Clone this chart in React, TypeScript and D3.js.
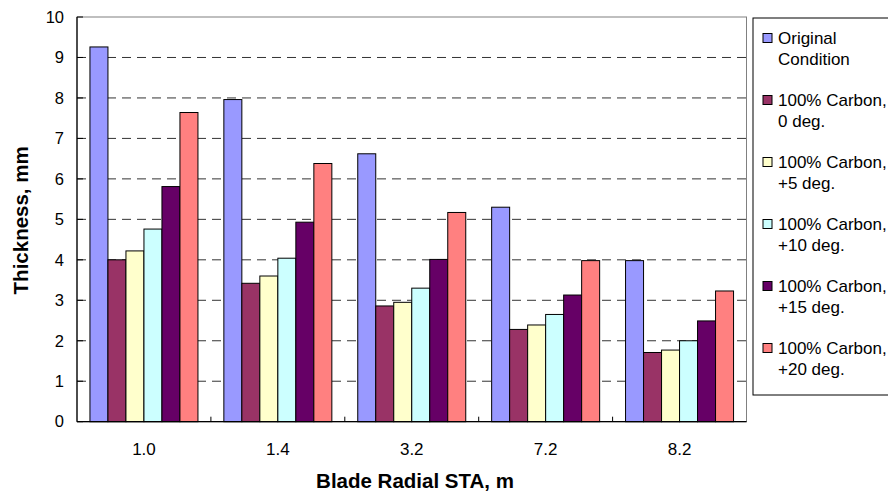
import React from "react";
import * as d3 from "d3";

const categories = ["1.0", "1.4", "3.2", "7.2", "8.2"];
const seriesNames = [
  ["Original", "Condition"],
  ["100% Carbon,", "0 deg."],
  ["100% Carbon,", "+5 deg."],
  ["100% Carbon,", "+10 deg."],
  ["100% Carbon,", "+15 deg."],
  ["100% Carbon,", "+20 deg."],
];
const colors = ["#9999FF", "#993366", "#FFFFCC", "#CCFFFF", "#660066", "#FF8080"];
const original = [9.26, 7.96, 6.62, 5.3, 3.98];
const carbon0 = [4.0, 3.42, 2.86, 2.28, 1.71];
const carbon5 = [4.22, 3.6, 2.95, 2.39, 1.77];
const carbon10 = [4.76, 4.04, 3.3, 2.65, 2.0];
const carbon15 = [5.81, 4.93, 4.01, 3.13, 2.49];
const carbon20 = [7.64, 6.38, 5.17, 3.98, 3.23];
const yTicks = [0, 1, 2, 3, 4, 5, 6, 7, 8, 9, 10];

const series = [original, carbon0, carbon5, carbon10, carbon15, carbon20];

export default function App() {
  const W = 888, H = 495;
  const left = 77, right = 746.5, top = 17, bottom = 421.7;
  const x = d3.scaleBand<string>().domain(categories).range([left, right]).paddingInner(0).paddingOuter(0);
  const y = d3.scaleLinear().domain([0, 10]).range([bottom, top]);
  const bw = x.bandwidth();
  const barW = 18;
  const groupPad = (bw - barW * series.length) / 2;
  const font = "Arial, 'Liberation Sans', sans-serif";

  const legX = 753, legY = 18, legH = 377;
  const entryY = (i: number) => 38 + i * 62;

  return (
    <svg width={W} height={H} style={{ position: "fixed", left: 0, top: 0, background: "#fff" }} fontFamily={font}>
      <rect x={0} y={0} width={W} height={H} fill="#fff" />
      {/* plot border */}
      <rect x={left} y={top} width={right - left} height={bottom - top} fill="none" stroke="#808080" strokeWidth={1} />
      {/* gridlines */}
      {yTicks.filter(t => t > 0 && t < 10).map(t => (
        <line key={"g" + t} x1={left} x2={right} y1={y(t)} y2={y(t)} stroke="#333" strokeWidth={1} strokeDasharray="9,6" />
      ))}
      {/* bars */}
      {categories.map((c, ci) => (
        <g key={c}>
          {series.map((s, si) => {
            const bx = (x(c) as number) + groupPad + si * barW;
            return (
              <rect key={si} x={bx} y={y(s[ci])} width={barW} height={bottom - y(s[ci])}
                fill={colors[si]} stroke="#000" strokeWidth={1} />
            );
          })}
        </g>
      ))}
      {/* axes */}
      <line x1={left} x2={left} y1={top} y2={bottom} stroke="#000" strokeWidth={1.2} />
      <line x1={left} x2={right} y1={bottom} y2={bottom} stroke="#000" strokeWidth={1.2} />
      {yTicks.map(t => (
        <g key={"t" + t}>
          <line x1={left} x2={left + 6} y1={y(t)} y2={y(t)} stroke="#000" />
          <text x={64} y={y(t)} dy="0.35em" textAnchor="end" fontSize={16.5} fill="#000">{t}</text>
        </g>
      ))}
      {categories.slice(1).map(c => (
        <line key={"xt" + c} x1={x(c)} x2={x(c)} y1={bottom} y2={bottom - 5} stroke="#000" />
      ))}
      {categories.map(c => (
        <text key={"xl" + c} x={(x(c) as number) + bw / 2} y={449} dy="0.35em" textAnchor="middle" fontSize={17} fill="#000">{c}</text>
      ))}
      {/* axis titles */}
      <text x={415} y={487.5} textAnchor="middle" fontSize={20.5} fontWeight="bold" fill="#000">Blade Radial STA, m</text>
      <text transform={`translate(27.5,${(top + bottom) / 2 + 1}) rotate(-90)`} textAnchor="middle" fontSize={20.5} fontWeight="bold" fill="#000">Thickness, mm</text>
      {/* legend */}
      <rect x={legX} y={legY} width={200} height={legH} fill="#fff" stroke="#000" strokeWidth={1} />
      {seriesNames.map((n, i) => (
        <g key={"l" + i}>
          <rect x={763} y={entryY(i) - 4.5} width={9} height={9} fill={colors[i]} stroke="#000" />
          <text x={778} y={entryY(i)} dy="0.35em" fontSize={17} fill="#000">{n[0]}</text>
          <text x={778} y={entryY(i) + 21} dy="0.35em" fontSize={17} fill="#000">{n[1]}</text>
        </g>
      ))}
    </svg>
  );
}
